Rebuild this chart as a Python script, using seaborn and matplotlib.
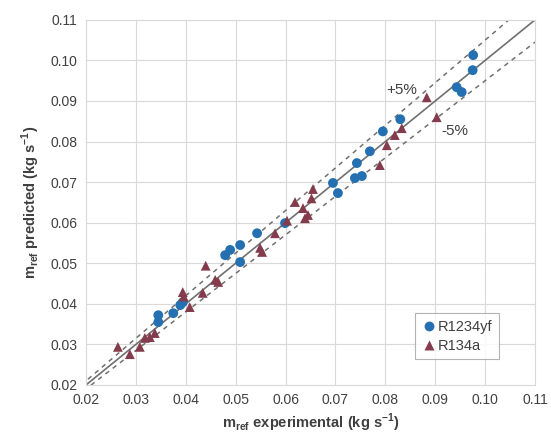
import numpy as np
import pandas as pd
import matplotlib
matplotlib.use("Agg")
import matplotlib.pyplot as plt
import seaborn as sns

# Refrigerant mass flow rate: experimental vs predicted (kg/s)
r1234yf_exp = [0.0345, 0.0345, 0.0375, 0.0389, 0.0394, 0.0479, 0.0489, 0.0509,
               0.0543, 0.0509, 0.0599, 0.0695, 0.0705, 0.0739, 0.0753, 0.0743,
               0.0769, 0.0795, 0.0830, 0.0943, 0.0953, 0.0975, 0.0976]
r1234yf_pred = [0.0372, 0.0355, 0.0377, 0.0397, 0.0404, 0.0520, 0.0533, 0.0545,
                0.0574, 0.0503, 0.0599, 0.0698, 0.0673, 0.0710, 0.0715, 0.0747,
                0.0776, 0.0825, 0.0855, 0.0934, 0.0922, 0.0976, 0.1013]

r134a_exp = [0.0264, 0.0288, 0.0308, 0.0318, 0.0328, 0.0338, 0.0394, 0.0396,
             0.0408, 0.0434, 0.0440, 0.0459, 0.0465, 0.0549, 0.0553, 0.0579,
             0.0603, 0.0619, 0.0639, 0.0635, 0.0645, 0.0655, 0.0652, 0.0789,
             0.0803, 0.0819, 0.0833, 0.0883, 0.0903]
r134a_pred = [0.0294, 0.0276, 0.0294, 0.0316, 0.0318, 0.0328, 0.0429, 0.0418,
              0.0392, 0.0427, 0.0494, 0.0459, 0.0454, 0.0538, 0.0528, 0.0574,
              0.0605, 0.0651, 0.0611, 0.0636, 0.0619, 0.0683, 0.0660, 0.0742,
              0.0791, 0.0816, 0.0833, 0.0909, 0.0860]

ticks = [0.02, 0.03, 0.04, 0.05, 0.06, 0.07, 0.08, 0.09, 0.10, 0.11]
tick_labels = ["0.02", "0.03", "0.04", "0.05", "0.06", "0.07", "0.08", "0.09", "0.10", "0.11"]

df = pd.DataFrame({
    "exp": r1234yf_exp + r134a_exp,
    "pred": r1234yf_pred + r134a_pred,
    "fluid": ["R1234yf"] * len(r1234yf_exp) + ["R134a"] * len(r134a_exp),
})

sns.set_style("whitegrid")
plt.rcParams["font.family"] = ["Liberation Sans", "DejaVu Sans"]

fig = plt.figure(figsize=(5.51, 4.41), dpi=100)
ax = fig.add_axes([0.156, 0.127, 0.815, 0.828])

# reference lines: perfect agreement and +/-5 % band
ax.plot([0.02, 0.11], [0.02, 0.11], color="#707070", lw=1.2, zorder=1)
xp = np.array([0.019, 0.11 / 1.05])
ax.plot(xp, xp * 1.05, color="#707070", lw=1.1, ls=(0, (3, 3)), zorder=1)
xm = np.array([0.021, 0.11])
ax.plot(xm, xm * 0.95, color="#707070", lw=1.1, ls=(0, (3, 3)), zorder=1)

sns.scatterplot(data=df, x="exp", y="pred", hue="fluid", style="fluid",
                palette={"R1234yf": "#2470b0", "R134a": "#843c4c"},
                markers={"R1234yf": "o", "R134a": "^"},
                s=50, edgecolor="none", ax=ax, zorder=3)

ax.text(0.0801, 0.0916, "+5%", fontsize=11, color="#404040")
ax.text(0.0913, 0.0815, "-5%", fontsize=11, color="#404040")

ax.set_xlim(0.02, 0.11)
ax.set_ylim(0.02, 0.11)
ax.set_xticks(ticks)
ax.set_xticklabels(tick_labels)
ax.set_yticks(ticks)
ax.set_yticklabels(tick_labels)
ax.tick_params(labelsize=10, colors="#404040", length=0, pad=6)
ax.grid(color="#d9d9d9", lw=0.8)
for sp in ax.spines.values():
    sp.set_color("#d9d9d9")
    sp.set_linewidth(0.8)

ax.set_xlabel(r"m$_{\mathregular{ref}}$ experimental (kg s$^{\mathregular{-1}}$)",
              fontsize=10.5, fontweight="bold", color="#404040", labelpad=3)
ax.set_ylabel(r"m$_{\mathregular{ref}}$ predicted (kg s$^{\mathregular{-1}}$)",
              fontsize=10.5, fontweight="bold", color="#404040", labelpad=6)

leg = ax.legend(loc="lower right", bbox_to_anchor=(0.935, 0.05), title=None,
                fontsize=10.5, frameon=True, fancybox=False,
                handletextpad=0.1, borderpad=0.45, labelspacing=0.35,
                handlelength=1.0, markerscale=1.0)
leg.get_frame().set_edgecolor("#a0a0a0")
leg.get_frame().set_linewidth(0.8)
for t in leg.get_texts():
    t.set_color("#404040")

fig.savefig("out.png", dpi=100)
